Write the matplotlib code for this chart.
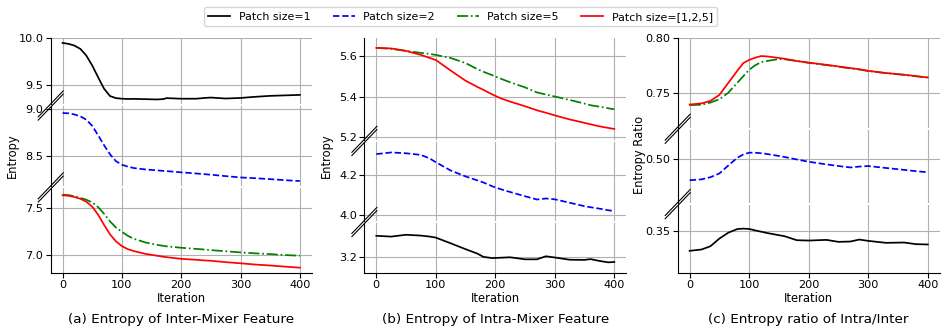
import matplotlib
matplotlib.use('Agg')
import matplotlib.pyplot as plt
from matplotlib.lines import Line2D
from matplotlib.ticker import FormatStrFormatter

# ---------------- data ----------------
series_labels = ["Patch size=1", "Patch size=2", "Patch size=5", "Patch size=[1,2,5]"]
series_colors = ["black", "blue", "green", "red"]
series_styles = ["-", "--", "-.", "-"]

# (a) Entropy of Inter-Mixer Feature
iters_a = [0, 10, 20, 30, 40, 50, 60, 70, 80, 90, 100, 110, 120, 140, 160, 170, 175,
           200, 225, 240, 250, 275, 300, 325, 350, 375, 400]
a_p1 = [9.948, 9.938, 9.92, 9.885, 9.815, 9.71, 9.585, 9.465, 9.388, 9.366, 9.36, 9.357, 9.358,
        9.355, 9.352, 9.356, 9.366, 9.36, 9.36, 9.368, 9.372, 9.362, 9.368, 9.38, 9.39, 9.395, 9.40]
a_p2 = [8.955, 8.952, 8.94, 8.92, 8.885, 8.82, 8.72, 8.615, 8.52, 8.448, 8.41, 8.39, 8.375,
        8.36, 8.35, 8.345, 8.343, 8.33, 8.318, 8.31, 8.305, 8.29, 8.276, 8.268, 8.258, 8.247, 8.238]
a_p5 = [7.636, 7.632, 7.62, 7.603, 7.583, 7.555, 7.505, 7.435, 7.355, 7.29, 7.245, 7.203, 7.172,
        7.132, 7.107, 7.097, 7.092, 7.077, 7.065, 7.058, 7.052, 7.04, 7.028, 7.018, 7.01, 7.0, 6.993]
a_all = [7.63, 7.625, 7.612, 7.593, 7.563, 7.51, 7.425, 7.318, 7.218, 7.145, 7.094, 7.062, 7.042,
         7.012, 6.992, 6.982, 6.978, 6.96, 6.95, 6.943, 6.94, 6.925, 6.913, 6.9, 6.89, 6.878, 6.867]

# (b) Entropy of Intra-Mixer Feature
iters_b = [0, 25, 50, 75, 90, 100, 125, 150, 170, 180, 195, 210, 225, 250, 270, 285,
           300, 325, 350, 360, 375, 390, 400]
b_p1 = [3.306, 3.302, 3.311, 3.307, 3.302, 3.297, 3.269, 3.24, 3.218, 3.202, 3.196, 3.198,
        3.2, 3.19, 3.19, 3.205, 3.199, 3.188, 3.187, 3.191, 3.182, 3.175, 3.177]
b_p2 = [4.302, 4.31, 4.306, 4.298, 4.28, 4.262, 4.221, 4.192, 4.172, 4.162, 4.143, 4.128,
        4.115, 4.094, 4.078, 4.083, 4.079, 4.062, 4.045, 4.04, 4.033, 4.025, 4.021]
b_p5 = [5.64, 5.635, 5.625, 5.615, 5.61, 5.605, 5.59, 5.565, 5.535, 5.522, 5.505, 5.487,
        5.47, 5.445, 5.42, 5.41, 5.40, 5.383, 5.365, 5.357, 5.35, 5.342, 5.337]
b_all = [5.64, 5.637, 5.625, 5.605, 5.59, 5.58, 5.528, 5.478, 5.447, 5.433, 5.41, 5.39,
         5.375, 5.352, 5.332, 5.32, 5.307, 5.287, 5.27, 5.263, 5.253, 5.245, 5.24]

# (c) Entropy ratio of Intra/Inter
iters_c = [0, 20, 35, 50, 65, 80, 90, 100, 110, 120, 130, 150, 160, 180, 200, 230, 250,
           270, 285, 300, 330, 360, 380, 400]
c_p1 = [0.3322, 0.3334, 0.3364, 0.3434, 0.3488, 0.3521, 0.3525, 0.3522, 0.3509, 0.3497,
        0.3485, 0.3465, 0.3455, 0.3419, 0.3416, 0.3422, 0.3404, 0.3407, 0.3425, 0.3413,
        0.3395, 0.3398, 0.3383, 0.338]
c_p2 = [0.481, 0.4818, 0.4838, 0.4872, 0.4945, 0.5015, 0.5045, 0.5062, 0.5062, 0.5057,
        0.505, 0.5032, 0.5022, 0.5, 0.4979, 0.4955, 0.494, 0.4927, 0.4935, 0.494, 0.4922,
        0.4905, 0.4893, 0.4883]
c_p5 = [0.7386, 0.739, 0.741, 0.744, 0.750, 0.759, 0.765, 0.771, 0.775, 0.778, 0.779,
        0.7808, 0.7805, 0.779, 0.7773, 0.7752, 0.7738, 0.7722, 0.7712, 0.7698, 0.7679,
        0.7663, 0.765, 0.7638]
c_all = [0.7392, 0.7402, 0.7425, 0.748, 0.759, 0.770, 0.777, 0.780, 0.782, 0.7835,
         0.7832, 0.7818, 0.781, 0.779, 0.7775, 0.7755, 0.774, 0.7725, 0.7715, 0.770,
         0.768, 0.7665, 0.7652, 0.764]

xticks = [0, 100, 200, 300, 400]

titles = ["(a) Entropy of Inter-Mixer Feature",
          "(b) Entropy of Intra-Mixer Feature",
          "(c) Entropy ratio of Intra/Inter"]
ylabels = ["Entropy", "Entropy", "Entropy Ratio"]
xlabel = "Iteration"

# sub-axis y-ranges (top -> bottom) and ticks
ylims_a = [(9.299, 10.003), (8.181, 9.024), (6.814, 7.702)]
yticks_a = [[9.5, 10.0], [8.5, 9.0], [7.0, 7.5]]
ylims_b = [(5.186, 5.69), (3.972, 4.362), (3.124, 3.369)]
yticks_b = [[5.2, 5.4, 5.6], [4.0, 4.2], [3.2]]
ylims_c = [(0.718, 0.8003), (0.4601, 0.5272), (0.3122, 0.374)]
yticks_c = [[0.75, 0.80], [0.50], [0.35]]

# ---------------- layout ----------------
W, H, DPI = 947, 336, 100
fig = plt.figure(figsize=(W / DPI, H / DPI), dpi=DPI)

TICK_FS = 8.1
LABEL_FS = 8.3
TITLE_FS = 9.7
LEG_FS = 7.9

panel_lr = [(50.7, 311.7), (364.4, 626.2), (677.7, 939.7)]
ax_top_px, ax_bot_px = 37.7, 272.7
gap_px = 2.0

panels = [
    (iters_a, [a_p1, a_p2, a_p5, a_all], ylims_a, yticks_a, '%.1f'),
    (iters_b, [b_p1, b_p2, b_p5, b_all], ylims_b, yticks_b, '%.1f'),
    (iters_c, [c_p1, c_p2, c_p5, c_all], ylims_c, yticks_c, '%.2f'),
]


def fx(px):
    return px / W


def fy(py):
    return 1 - py / H


handles = None
for pi, (xs, ys_list, ylims, yticks, fmt) in enumerate(panels):
    left, right = panel_lr[pi]
    ranges = [hi - lo for lo, hi in ylims]
    avail = (ax_bot_px - ax_top_px) - gap_px * (len(ylims) - 1)
    scale = avail / sum(ranges)
    y_cursor = ax_top_px
    edges = []
    for k, (lim, ticks) in enumerate(zip(ylims, yticks)):
        h = ranges[k] * scale
        ax = fig.add_axes([fx(left), fy(y_cursor + h), fx(right) - fx(left), h / H])
        edges.append((y_cursor, y_cursor + h))
        y_cursor += h + gap_px
        lines = []
        for ys, col, ls, lab in zip(ys_list, series_colors, series_styles, series_labels):
            ln, = ax.plot(xs, ys, color=col, linestyle=ls, linewidth=1.25, label=lab)
            lines.append(ln)
        if handles is None:
            handles = lines
        ax.set_xlim(-20, 420)
        ax.set_ylim(*lim)
        ax.set_xticks(xticks)
        ax.set_yticks(ticks)
        ax.yaxis.set_major_formatter(FormatStrFormatter(fmt))
        ax.grid(True, color='#b0b0b0', linewidth=0.8)
        ax.set_axisbelow(True)
        ax.spines['top'].set_visible(False)
        ax.spines['right'].set_visible(False)
        ax.tick_params(axis='y', labelsize=TICK_FS, pad=1.8)
        ax.tick_params(axis='x', labelsize=TICK_FS, pad=1.8)
        if k < len(ylims) - 1:
            ax.spines['bottom'].set_visible(False)
            ax.tick_params(axis='x', bottom=False, labelbottom=False)

    # break marks on the left spine
    for k in range(len(edges) - 1):
        yc = (edges[k][1] + edges[k + 1][0]) / 2
        for off in (-1.6, 1.6):
            y0 = yc + off
            fig.add_artist(Line2D([fx(left - 12.5), fx(left + 12.5)],
                                  [fy(y0 + 13), fy(y0 - 13)],
                                  transform=fig.transFigure, color='k', linewidth=0.8))

    cx = (left + right) / 2
    fig.text(fx(cx), fy(298.5), xlabel, ha='center', va='center', fontsize=LABEL_FS)
    fig.text(fx(cx), fy(320), titles[pi], ha='center', va='center', fontsize=TITLE_FS)

ylabel_x = [12.7, 326.7, 639.7]
for pi in range(3):
    fig.text(fx(ylabel_x[pi]), fy((ax_top_px + ax_bot_px) / 2), ylabels[pi],
             rotation=90, ha='center', va='center', fontsize=LABEL_FS)

fig.legend(handles, series_labels, loc='upper center', ncol=4,
           bbox_to_anchor=(fx(460.5), fy(7.3)), borderaxespad=0, fontsize=LEG_FS,
           frameon=True)

fig.savefig('out.png', dpi=DPI)
